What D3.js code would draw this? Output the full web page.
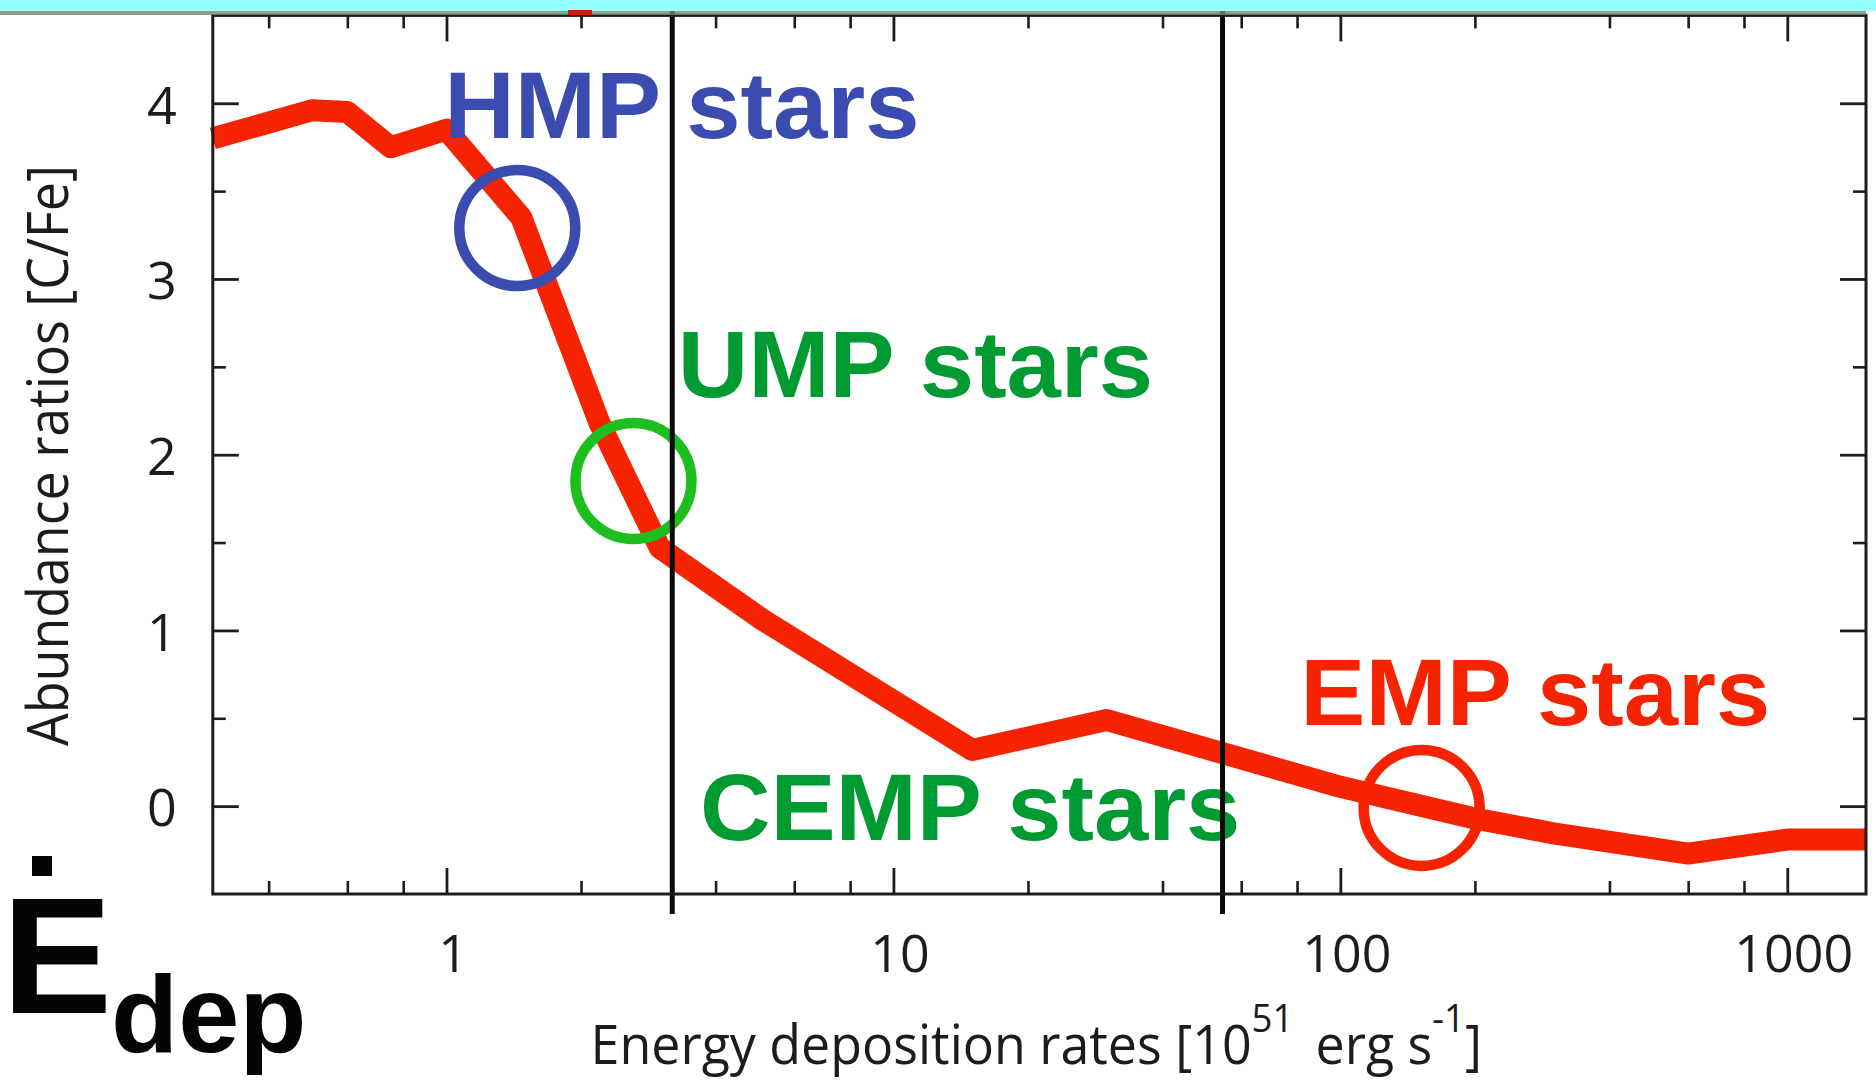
<!DOCTYPE html>
<html>
<head>
<meta charset="utf-8">
<script src="https://cdn.jsdelivr.net/npm/d3@7"></script>
<style>
  html, body { margin: 0; padding: 0; background: #ffffff; }
  svg { display: block; }
</style>
</head>
<body>
<svg id="chart" width="1876" height="1080"></svg>
<script>
// ---- data -------------------------------------------------------------
// Energy deposition rate [10^51 erg/s] and the resulting [C/Fe] ratio
const depositionRate = [0.3, 0.5, 0.6, 0.75, 1.0, 1.47, 2.2, 3.0, 5.1, 15, 30, 100, 200, 300, 600, 1000, 1500];
const carbonToIron   = [3.80, 3.96, 3.95, 3.75, 3.85, 3.35, 2.18, 1.47, 1.06, 0.32, 0.49, 0.11, -0.07, -0.155, -0.27, -0.19, -0.19];

// rates separating the HMP / UMP / EMP regimes
const boundaryRates = [3.2, 54.5];

// axis ticks
const xMajorTicks = [1, 10, 100, 1000];
const xMinorTicks = [0.4, 0.6, 0.8, 2, 4, 6, 8, 20, 40, 60, 80, 200, 400, 600, 800];
const yMajorTicks = [0, 1, 2, 3, 4];
const yMinorTicks = [0.5, 1.5, 2.5, 3.5];

// star-group labels (left edge of the text, baseline) in data units
const groupNames      = ['HMP stars', 'UMP stars', 'CEMP stars', 'EMP stars'];
const groupLabelRate  = [1.02, 3.38, 3.75, 84];
const groupLabelRatio = [3.80, 2.33, -0.19, 0.46];

// ring markers on the curve
const markerGroups = ['HMP', 'UMP', 'EMP'];
const markerRate   = [1.44, 2.62, 152];
const markerRatio  = [3.29, 1.85, -0.01];

// ---- styles -----------------------------------------------------------
const groupColors  = ['#3a4caf', '#009a33', '#009a33', '#f52300'];
const markerColors = ['#3a4caf', '#1ebe1e', '#f52300'];
const curveColor   = '#f52300';
const inkColor     = '#1c1c1c';

// ---- layout -----------------------------------------------------------
const W = 1876, H = 1080;
const plot = { left: 212.8, right: 1866, top: 15.4, bottom: 894 };

const svg = d3.select('#chart');
svg.append('rect').attr('width', W).attr('height', H).attr('fill', '#ffffff');

const x = d3.scaleLog().domain([0.3, 1500]).range([plot.left, plot.right]);
const y = d3.scaleLinear().domain([-0.5, 4.5]).range([plot.bottom, plot.top]);

// text ink measurement
const measureCtx = document.createElement('canvas').getContext('2d');
function inkBox(text, font) {
  measureCtx.font = font;
  const m = measureCtx.measureText(text);
  return { left: m.actualBoundingBoxLeft, right: m.actualBoundingBoxRight,
           ascent: m.actualBoundingBoxAscent, descent: m.actualBoundingBoxDescent };
}

// ---- curve ------------------------------------------------------------
const series = depositionRate.map((r, i) => ({ rate: r, ratio: carbonToIron[i] }));
const line = d3.line().x(d => x(d.rate)).y(d => y(d.ratio));

svg.append('path')
  .datum(series)
  .attr('d', line)
  .attr('fill', 'none')
  .attr('stroke', curveColor)
  .attr('stroke-width', 22)
  .attr('stroke-linejoin', 'round')
  .attr('stroke-linecap', 'butt');

// ---- ring markers -----------------------------------------------------
svg.append('g').selectAll('circle')
  .data(markerGroups)
  .join('circle')
  .attr('cx', (d, i) => x(markerRate[i]))
  .attr('cy', (d, i) => y(markerRatio[i]))
  .attr('r', 58)
  .attr('fill', 'none')
  .attr('stroke', (d, i) => markerColors[i])
  .attr('stroke-width', 10.5);

// ---- group labels -----------------------------------------------------
const labelSize = 95, labelStretch = 1.027;
const labelFont = `bold ${labelSize}px "Liberation Sans"`;
svg.append('g').selectAll('text')
  .data(groupNames)
  .join('text')
  .attr('font-family', '"Liberation Sans", Arial, sans-serif')
  .attr('font-weight', 'bold')
  .attr('font-size', labelSize)
  .attr('fill', (d, i) => groupColors[i])
  .attr('transform', (d, i) => {
    const b = inkBox(d, labelFont);
    const ox = x(groupLabelRate[i]) + b.left * labelStretch;
    return `translate(${ox},${y(groupLabelRatio[i])}) scale(${labelStretch},1)`;
  })
  .text(d => d);

// ---- regime boundaries ------------------------------------------------
svg.append('g').selectAll('line')
  .data(boundaryRates)
  .join('line')
  .attr('x1', d => x(d)).attr('x2', d => x(d))
  .attr('y1', plot.top - 12).attr('y2', plot.bottom + 20)
  .attr('stroke', '#0a0a0a')
  .attr('stroke-width', 5);

// ---- axes -------------------------------------------------------------
const tickFont = '"Open Sans", "Noto Sans", sans-serif';
function styleTicks(g, width) {
  g.select('.domain').remove();
  g.selectAll('.tick line').attr('stroke', inkColor).attr('stroke-width', width);
}

// bottom
svg.append('g')
  .attr('transform', `translate(0,${plot.bottom})`)
  .call(d3.axisBottom(x).tickValues(xMinorTicks).tickFormat('').tickSize(-13).tickSizeOuter(0))
  .call(g => styleTicks(g, 2.6));
const bottomMajor = svg.append('g')
  .attr('transform', `translate(0,${plot.bottom})`)
  .call(d3.axisBottom(x).tickValues(xMajorTicks).tickFormat(d3.format('d')).tickSize(-26).tickSizeOuter(0).tickPadding(41))
  .call(g => styleTicks(g, 2.8));
bottomMajor.selectAll('text')
  .attr('font-family', tickFont).attr('font-size', 52).attr('fill', inkColor)
  .attr('dx', 6);

// top
svg.append('g')
  .attr('transform', `translate(0,${plot.top})`)
  .call(d3.axisTop(x).tickValues(xMinorTicks).tickFormat('').tickSize(-13).tickSizeOuter(0))
  .call(g => styleTicks(g, 2.6));
svg.append('g')
  .attr('transform', `translate(0,${plot.top})`)
  .call(d3.axisTop(x).tickValues(xMajorTicks).tickFormat('').tickSize(-26).tickSizeOuter(0))
  .call(g => styleTicks(g, 2.8));

// left
svg.append('g')
  .attr('transform', `translate(${plot.left},0)`)
  .call(d3.axisLeft(y).tickValues(yMinorTicks).tickFormat('').tickSize(-13).tickSizeOuter(0))
  .call(g => styleTicks(g, 2.6));
const leftMajor = svg.append('g')
  .attr('transform', `translate(${plot.left},0)`)
  .call(d3.axisLeft(y).tickValues(yMajorTicks).tickFormat(d3.format('d')).tickSize(-26).tickSizeOuter(0))
  .call(g => styleTicks(g, 2.8));
leftMajor.selectAll('text')
  .attr('font-family', tickFont).attr('font-size', 52).attr('fill', inkColor)
  .attr('text-anchor', 'middle').attr('x', -51).attr('dy', '0.38em');

// right
svg.append('g')
  .attr('transform', `translate(${plot.right},0)`)
  .call(d3.axisRight(y).tickValues(yMinorTicks).tickFormat('').tickSize(-13).tickSizeOuter(0))
  .call(g => styleTicks(g, 2.6));
svg.append('g')
  .attr('transform', `translate(${plot.right},0)`)
  .call(d3.axisRight(y).tickValues(yMajorTicks).tickFormat('').tickSize(-26).tickSizeOuter(0))
  .call(g => styleTicks(g, 2.8));

// frame
svg.append('rect')
  .attr('x', plot.left).attr('y', plot.top)
  .attr('width', plot.right - plot.left).attr('height', plot.bottom - plot.top)
  .attr('fill', 'none').attr('stroke', inkColor).attr('stroke-width', 3);

// ---- axis titles ------------------------------------------------------
const titleSize = 54;

const xTitle = svg.append('text')
  .attr('font-family', tickFont).attr('font-size', titleSize).attr('fill', inkColor);
xTitle.append('tspan').text('Energy deposition rates [10');
xTitle.append('tspan').attr('font-size', 38).attr('dy', -32).text('51');
xTitle.append('tspan').attr('dy', 32).text('\u2009 erg s');
xTitle.append('tspan').attr('font-size', 38).attr('dy', -32).text('-1');
xTitle.append('tspan').attr('dy', 32).text(']');
{
  const bb = xTitle.node().getBBox();
  const k = (1482 - 590.6) / bb.width;
  xTitle.attr('transform', `translate(${590.6 - bb.x * k},1064) scale(${k},1)`);
}

const yTitle = svg.append('text')
  .attr('font-family', tickFont).attr('font-size', 56).attr('fill', inkColor)
  .text('Abundance ratios [C/Fe]');
{
  const bb = yTitle.node().getBBox();
  const k = (746 - 165) / bb.width;
  yTitle.attr('transform', `translate(68,${746 + bb.x * k}) rotate(-90) scale(${k},1)`);
}

// ---- rate symbol: E with an overdot (time derivative), subscript "dep"
const symFamily = '"Liberation Sans", Arial, sans-serif';
{
  const eSize = 165, eFont = `bold ${eSize}px "Liberation Sans"`;
  const eb = inkBox('E', eFont);
  const eLeft = 13, eBase = 1013;
  svg.append('text')
    .attr('font-family', symFamily).attr('font-weight', 'bold').attr('font-size', eSize)
    .attr('fill', '#050505')
    .attr('x', eLeft + eb.left).attr('y', eBase)
    .text('E');

  // the overdot: a square placed over the left part of the E
  const dotSize = 20;
  svg.append('rect')
    .attr('x', eLeft + 19).attr('y', eBase - eb.ascent - 23 - dotSize)
    .attr('width', dotSize).attr('height', dotSize)
    .attr('fill', '#050505');

  const dSize = 110, dFont = `bold ${dSize}px "Liberation Sans"`;
  const db = inkBox('dep', dFont);
  svg.append('text')
    .attr('font-family', symFamily).attr('font-weight', 'bold').attr('font-size', dSize)
    .attr('fill', '#050505')
    .attr('x', 115 + db.left).attr('y', 1052)
    .text('dep');
}

// ---- banner strip along the top --------------------------------------
svg.append('rect').attr('x', 0).attr('y', 11).attr('width', plot.right).attr('height', 4)
  .attr('fill', '#6f8a68').attr('opacity', 0.8);
svg.append('rect').attr('x', 0).attr('y', 0).attr('width', W).attr('height', 11)
  .attr('fill', '#96ffff');
svg.append('rect').attr('x', 568).attr('y', 10).attr('width', 24).attr('height', 5)
  .attr('fill', '#c81e0a');
</script>
</body>
</html>
